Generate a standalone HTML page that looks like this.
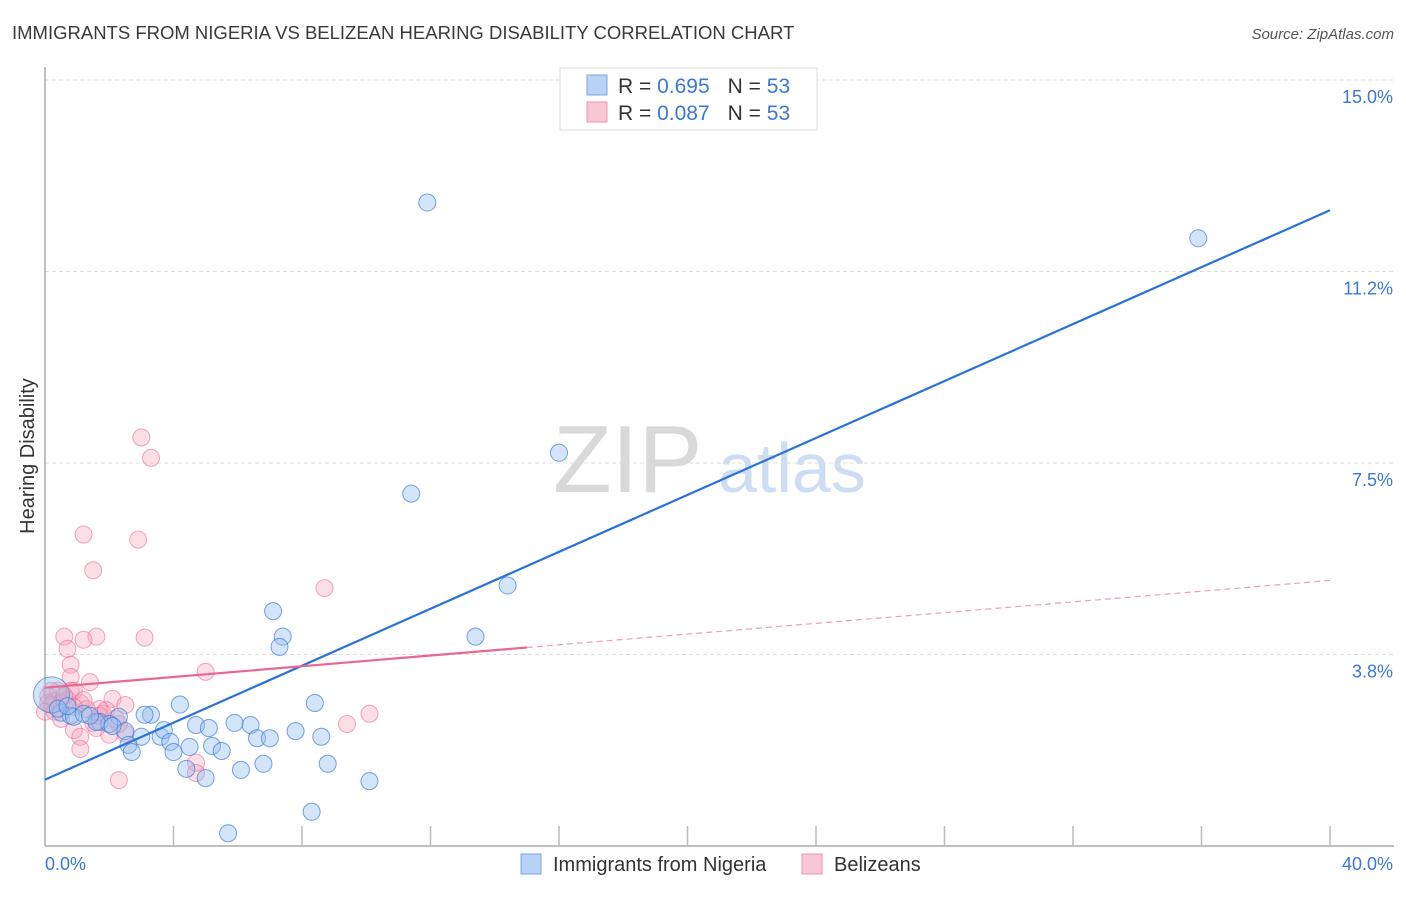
<!DOCTYPE html>
<html><head><meta charset="utf-8"><style>
body{margin:0;background:#fff;font-family:"Liberation Sans",sans-serif;}
svg text{font-family:"Liberation Sans",sans-serif;}
</style></head><body>
<svg id="chart" width="1406" height="892" viewBox="0 0 1406 892" xmlns="http://www.w3.org/2000/svg">
<text x="12" y="39" font-size="18.5" fill="#3a3a3a">IMMIGRANTS FROM NIGERIA VS BELIZEAN HEARING DISABILITY CORRELATION CHART</text>
<text x="1394" y="39" font-size="15" fill="#555" text-anchor="end" font-style="italic">Source: ZipAtlas.com</text>
<g>
<text x="553" y="492" font-size="96" fill="#d0d0d0" font-family="Liberation Serif" opacity="0.8">ZIP</text>
<text x="718" y="492" font-size="70" fill="#b8d0ee" opacity="0.7">atlas</text>
</g>
<g id="grid"></g>
<g id="axes"></g>
<g id="pinkPts"></g>
<g id="bluePts"></g>
<g id="lines"></g>
<text transform="translate(34,456) rotate(-90)" font-size="20" fill="#333" text-anchor="middle">Hearing Disability</text>
<g>
<rect x="560" y="68" width="257" height="62" fill="#fff" stroke="#ddd"/>
<rect x="587" y="75" width="20" height="20" fill="#b8d3f5" stroke="#7aa8e6"/>
<rect x="587" y="102" width="20" height="20" fill="#f9c6d5" stroke="#ec94b0"/>
<text x="618" y="93" font-size="21" fill="#333">R = <tspan fill="#3a78d6">0.695</tspan><tspan dx="18">N = </tspan><tspan fill="#3a78d6">53</tspan></text>
<text x="618" y="120" font-size="21" fill="#333">R = <tspan fill="#3a78d6">0.087</tspan><tspan dx="18">N = </tspan><tspan fill="#3a78d6">53</tspan></text>
</g>
<g>
<rect x="521" y="854" width="20" height="20" fill="#b8d3f5" stroke="#7aa8e6"/>
<text x="553" y="871" font-size="20" fill="#333">Immigrants from Nigeria</text>
<rect x="802" y="854" width="20" height="20" fill="#f9c6d5" stroke="#ec94b0"/>
<text x="834" y="871" font-size="20" fill="#333">Belizeans</text>
</g>
</svg>
<script>
const yTicks=[3.75,7.5,11.25,15];
const yTickLabels=["3.8%","7.5%","11.2%","15.0%"];
const xTicks=[0,4,8,12,16,20,24,28,32,36,40];
const nigeriaX=[11.9,35.9,16.0,11.4,14.4,13.4,7.1,7.4,7.3,8.4,4.2,3.3,3.1,2.3,0.5,0.8,0.9,1.7,2.0,2.5,3.0,3.6,3.7,4.7,5.1,5.9,6.4,6.6,7.0,7.8,8.6,3.9,4.5,5.2,5.5,2.6,2.7,4.0,4.4,5.0,6.1,6.8,8.8,10.1,8.3,5.7,0.2,1.2,1.6,2.1,1.4,0.4,0.7];
const nigeriaY=[12.6,11.9,7.7,6.9,5.1,4.1,4.6,4.1,3.9,2.8,2.77,2.57,2.57,2.53,2.61,2.55,2.53,2.43,2.39,2.25,2.14,2.14,2.27,2.37,2.31,2.41,2.37,2.11,2.11,2.25,2.14,2.04,1.94,1.96,1.86,1.98,1.84,1.84,1.51,1.33,1.49,1.61,1.61,1.27,0.67,0.25,2.96,2.59,2.43,2.35,2.55,2.69,2.74];
const belizeX=[3.0,3.3,1.2,2.9,1.5,8.7,0.6,1.6,1.2,3.1,0.7,0.8,5.0,0.8,1.4,0.8,0.4,0.1,0.3,0.5,1.1,2.1,2.5,1.7,1.8,1.3,2.2,1.5,1.6,0.9,1.1,1.1,2.3,4.7,4.7,9.4,10.1,2.0,2.5,0.2,0.0,0.3,0.7,0.9,1.2,0.5,1.7,2.3,1.9,0.2,0.6,0.9,0.1];
const belizeY=[8.0,7.6,6.1,6.0,5.4,5.05,4.1,4.1,4.04,4.08,3.86,3.55,3.41,3.31,3.21,3.04,3.04,2.94,2.84,2.8,2.8,2.88,2.76,2.68,2.59,2.68,2.49,2.41,2.31,2.27,2.14,1.9,1.29,1.63,1.43,2.39,2.59,2.18,2.2,2.76,2.63,2.63,2.86,3.04,2.86,2.49,2.55,2.39,2.66,3.04,2.94,2.72,2.8];
const sizesBig=[0,0,0,0,0,0,0,0,0,0,0,0,0,0,0,0,0,0,0,0,0,0,0,0,0,0,0,0,0,0,0,0,0,0,0,0,0,0,0,0,0,0,0,0,0,0,1,0,0,0,0,0,0];
const nigeriaTrend=[1.3,12.45];
const belizeTrend=[3.1,5.2];
const belizeSolidEnd=15;
const X0=45,X1=1330,Y0=846,Y1=80;
const sx=v=>X0+v/40*(X1-X0);
const sy=v=>Y0-v/15*(Y0-Y1);
const NS="http://www.w3.org/2000/svg";
function mk(tag,attrs,parent){const e=document.createElementNS(NS,tag);for(const k in attrs)e.setAttribute(k,attrs[k]);parent.appendChild(e);return e;}
const grid=document.getElementById('grid'),axes=document.getElementById('axes');
yTicks.forEach((t,i)=>{
 const g=mk('line',{x1:X0,x2:1394,y1:sy(t),y2:sy(t),stroke:'#ddd','stroke-dasharray':'4,3'},grid);
 
 
 const l=mk('text',{x:1393,y:sy(t)+23,'font-size':18,fill:'#3a78d6','text-anchor':'end'},axes);
 l.textContent=yTickLabels[i];
 
 
});
const ya=mk('line',{x1:X0,x2:X0,y1:67,y2:Y0,stroke:'#aaa','stroke-width':1.5},axes);


const xa=mk('line',{x1:X0,x2:1394,y1:Y0,y2:Y0,stroke:'#aaa','stroke-width':1.5},axes);


xTicks.forEach(t=>{if(t===0)return;
 const k=mk('line',{x1:sx(t),x2:sx(t),y1:826,y2:Y0,stroke:'#bbb','stroke-width':1.5},axes);
 
 
});
const xl0=mk('text',{x:45,y:870,'font-size':18,fill:'#3a78d6'},axes);xl0.textContent='0.0%';


const xl1=mk('text',{x:1393,y:870,'font-size':18,fill:'#3a78d6','text-anchor':'end'},axes);xl1.textContent='40.0%';


const pp=document.getElementById('pinkPts');
belizeX.forEach((x,i)=>{const c=mk('circle',{cx:sx(x),cy:sy(belizeY[i]),r:8.5,fill:'rgba(245,160,185,0.35)',stroke:'rgba(232,110,150,0.6)','stroke-width':1},pp);
 
 });
const bp=document.getElementById('bluePts');
nigeriaX.forEach((x,i)=>{const c=mk('circle',{cx:sx(x),cy:sy(nigeriaY[i]),r:sizesBig[i]?18:8.5,fill:'rgba(150,190,240,0.4)',stroke:'rgba(60,125,215,0.7)','stroke-width':1},bp);
 
 });
const ln=document.getElementById('lines');
const bl=mk('line',{x1:sx(0),y1:sy(nigeriaTrend[0]),x2:sx(40),y2:sy(nigeriaTrend[1]),stroke:'#2a72d8','stroke-width':2.2},ln);


const pv=x=>belizeTrend[0]+(belizeTrend[1]-belizeTrend[0])*x/40;
const pl=mk('line',{x1:sx(0),y1:sy(pv(0)),x2:sx(belizeSolidEnd),y2:sy(pv(belizeSolidEnd)),stroke:'#e8688f','stroke-width':2.2},ln);


const pd=mk('line',{x1:sx(belizeSolidEnd),y1:sy(pv(belizeSolidEnd)),x2:sx(40),y2:sy(pv(40)),stroke:'#eba0b6','stroke-width':1.2,'stroke-dasharray':'6,4'},ln);


</script>
</body></html>
